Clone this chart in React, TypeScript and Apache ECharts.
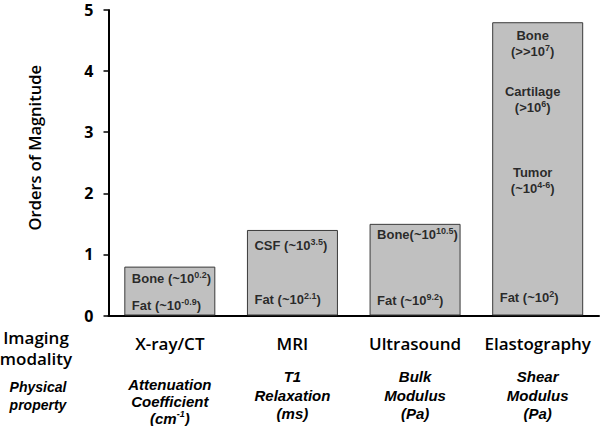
import React, { useEffect, useRef } from "react";
import * as echarts from "echarts";

// Categories (imaging modality) and bar values (orders of magnitude)
const categories = ["X-ray/CT", "MRI", "Ultrasound", "Elastography"];
const orders = [0.8, 1.4, 1.5, 4.8];

// Physical property labels (rich-text markup, {ps|..} = superscript)
const properties = [
  "Attenuation\nCoefficient\n(cm{ps|-1})",
  "T1\nRelaxation\n(ms)",
  "Bulk\nModulus\n(Pa)",
  "Shear\nModulus\n(Pa)",
];

// Y-axis range
const yMin = 0;
const yMax = 5;
const yStep = 1;

// In-bar annotations: category index, level (orders of magnitude), text ({s|..} = superscript)
const noteCategory = [0, 0, 1, 1, 2, 2, 3, 3, 3, 3];
const noteLevel = [0.61, 0.17, 1.15, 0.27, 1.33, 0.25, 4.45, 3.54, 2.21, 0.29];
const noteText = [
  "Bone (~10{s|0.2})",
  "Fat (~10{s|-0.9})",
  "CSF (~10{s|3.5})",
  "Fat (~10{s|2.1})",
  "Bone(~10{s|10.5})",
  "Fat (~10{s|9.2})",
  "Bone\n(>>10{s|7})",
  "Cartilage\n(>10{s|6})",
  "Tumor\n(~10{s|4-6})",
  "Fat (~10{s|2})",
];

const SANS = "'Open Sans', sans-serif";
const ARIAL = "'Liberation Sans', Arial, sans-serif";

export default function App() {
  const ref = useRef<HTMLDivElement>(null);

  useEffect(() => {
    if (!ref.current) return;
    const chart = echarts.init(ref.current, undefined, { renderer: "svg" });

    const notes = noteCategory.map((c, i) => {
      const multi = noteText[i].includes("\n");
      return {
        value: [c, noteLevel[i]],
        label: {
          formatter: noteText[i],
          align: multi ? "center" : "left",
          offset: multi ? [-5, 0] : [-38, 0],
        },
      };
    });

    const propStyle = {
      fontFamily: ARIAL,
      fontSize: 15,
      fontWeight: "bold",
      fontStyle: "italic",
      color: "#000",
    };

    chart.setOption({
      animation: false,
      backgroundColor: "#ffffff",
      grid: {
        left: 108.5,
        right: 1,
        top: 10,
        bottom: 110.5,
        containLabel: false,
        outerBoundsMode: "none",
      },
      xAxis: [
        {
          type: "category",
          data: categories,
          axisLine: { lineStyle: { color: "#000", width: 2 } },
          axisTick: { show: false },
          axisLabel: {
            margin: 19,
            fontFamily: SANS,
            fontSize: 17,
            fontWeight: 600,
            color: "#000",
            interval: 0,
          },
        },
        {
          type: "category",
          data: properties,
          position: "bottom",
          axisLine: { show: false },
          axisTick: { show: false },
          axisLabel: {
            margin: 52,
            interval: 0,
            formatter: (v: string, i: number) => {
              const st = i === 0 ? "q" : "p";
              const body = v
                .split("\n")
                .map((line) =>
                  line
                    .replace(/^([^{]+)/, (m) => `{${st}|${m}}`)
                    .replace(/\}([^{}]+)$/, (_m, t) => `}{${st}|${t}}`)
                )
                .join("\n");
              return i === 0 ? `{g| }\n${body}` : body;
            },
            rich: {
              p: { ...propStyle, lineHeight: 18.5 },
              q: { ...propStyle, lineHeight: 17 },
              ps: {
                ...propStyle,
                fontSize: 9,
                lineHeight: 9,
                verticalAlign: "top",
              },
              g: { fontSize: 6, lineHeight: 8 },
            },
          },
        },
      ],
      yAxis: {
        type: "value",
        min: yMin,
        max: yMax,
        interval: yStep,
        name: "Orders of Magnitude",
        nameLocation: "middle",
        nameGap: 66,
        nameTextStyle: {
          fontFamily: SANS,
          fontSize: 16.5,
          fontWeight: 600,
          color: "#000",
          padding: [0, 0, 0, 30],
        },
        axisLine: { show: true, lineStyle: { color: "#000", width: 2 } },
        axisTick: { show: true, length: 5, lineStyle: { color: "#000", width: 1.5 } },
        splitLine: { show: false },
        axisLabel: {
          margin: 15,
          fontFamily: SANS,
          fontSize: 16,
          fontWeight: "bold",
          color: "#000",
        },
      },
      graphic: [
        {
          type: "text",
          x: 36,
          y: 326.5,
          style: {
            text: "Imaging\nmodality",
            fontFamily: SANS,
            fontSize: 17,
            fontWeight: 600,
            lineHeight: 21,
            fill: "#000",
            align: "center",
            verticalAlign: "top",
          },
        },
        {
          type: "text",
          x: 38,
          y: 378,
          style: {
            text: "Physical\nproperty",
            fontFamily: ARIAL,
            fontSize: 14,
            fontWeight: "bold",
            fontStyle: "italic",
            lineHeight: 18,
            fill: "#000",
            align: "center",
            verticalAlign: "top",
          },
        },
      ],
      series: [
        {
          type: "bar",
          data: orders,
          barWidth: 91,
          itemStyle: { color: "#c0c0c0", borderColor: "#3a3a3a", borderWidth: 1 },
          silent: true,
        },
        {
          type: "scatter",
          data: notes,
          symbol: "circle",
          symbolSize: 1,
          itemStyle: { color: "rgba(0,0,0,0)" },
          silent: true,
          z: 5,
          label: {
            show: true,
            position: "inside",
            fontFamily: ARIAL,
            fontSize: 13,
            fontWeight: "bold",
            color: "#000",
            lineHeight: 16,
            rich: {
              s: {
                fontFamily: ARIAL,
                fontSize: 9,
                fontWeight: "bold",
                color: "#000",
                lineHeight: 10,
                verticalAlign: "top",
              },
            },
          },
        },
      ],
    });

    return () => chart.dispose();
  }, []);

  return (
    <div
      ref={ref}
      style={{ position: "fixed", left: 0, top: 0, width: 600, height: 426, background: "#fff" }}
    />
  );
}
